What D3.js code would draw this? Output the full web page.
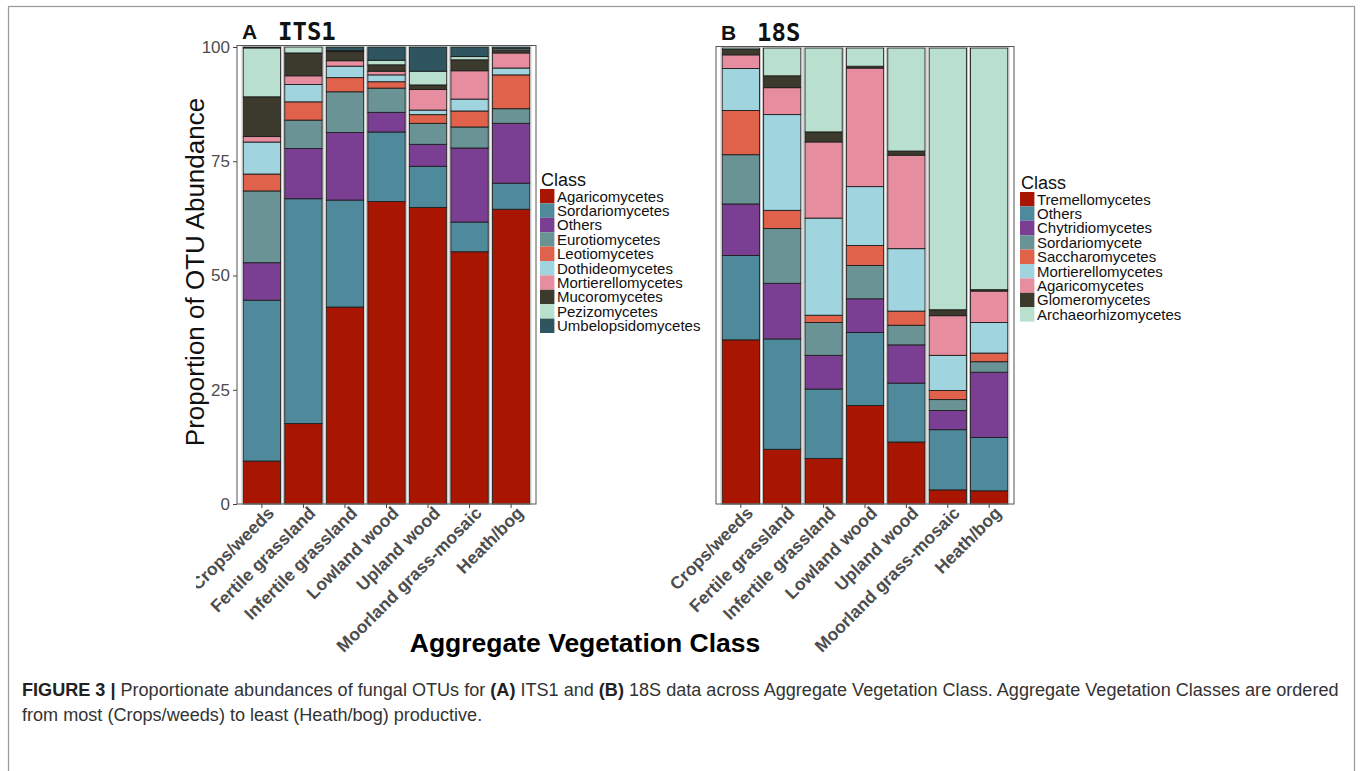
<!DOCTYPE html>
<html>
<head>
<meta charset="utf-8">
<script src="https://cdn.jsdelivr.net/npm/d3@7"></script>
<style>
  body { margin: 0; background: #fff; }
  svg { display: block; font-family: Arial, "Liberation Sans", sans-serif; }
</style>
</head>
<body>
<svg id="fig" width="1363" height="771"></svg>
<script>
//! DATA
const vegClasses = ['Crops/weeds', 'Fertile grassland', 'Infertile grassland', 'Lowland wood',
  'Upland wood', 'Moorland grass-mosaic', 'Heath/bog'];
const yTicks = [0, 25, 50, 75, 100];

const its1Classes = ['Agaricomycetes', 'Sordariomycetes', 'Others', 'Eurotiomycetes', 'Leotiomycetes',
  'Dothideomycetes', 'Mortierellomycetes', 'Mucoromycetes', 'Pezizomycetes', 'Umbelopsidomycetes'];
// one row per class, one value per vegetation class (percent of OTU abundance)
const its1Values = [
  [9.4, 17.6, 43.1, 66.2, 64.9, 55.2, 64.5],
  [35.2, 49.2, 23.4, 15.2, 9.0, 6.5, 5.7],
  [8.2, 11.0, 14.8, 4.3, 4.8, 16.2, 13.1],
  [15.7, 6.2, 8.9, 5.3, 4.6, 4.6, 3.2],
  [3.7, 4.0, 3.1, 1.4, 1.9, 3.5, 7.4],
  [7.0, 3.8, 2.5, 1.5, 1.0, 2.6, 1.5],
  [1.2, 1.9, 1.2, 0.8, 4.5, 6.2, 3.3],
  [8.7, 5.0, 2.0, 1.4, 1.0, 2.4, 0.6],
  [10.7, 1.3, 0.2, 1.0, 3.0, 0.7, 0.3],
  [0.2, 0.0, 0.8, 2.9, 5.3, 2.1, 0.4]
];

const s18Classes = ['Tremellomycetes', 'Others', 'Chytridiomycetes', 'Sordariomycete', 'Saccharomycetes',
  'Mortierellomycetes', 'Agaricomycetes', 'Glomeromycetes', 'Archaeorhizomycetes'];
const s18Values = [
  [36.0, 12.0, 10.0, 21.6, 13.6, 3.1, 2.9],
  [18.5, 24.2, 15.2, 16.0, 12.9, 13.2, 11.7],
  [11.3, 12.2, 7.4, 7.4, 8.4, 4.2, 14.3],
  [10.8, 12.0, 7.2, 7.3, 4.3, 2.4, 2.3],
  [9.7, 4.0, 1.6, 4.4, 3.1, 2.0, 1.9],
  [9.2, 21.0, 21.3, 12.9, 13.7, 7.7, 6.7],
  [3.0, 5.9, 16.7, 26.0, 20.5, 8.7, 6.9],
  [1.2, 2.6, 2.2, 0.4, 0.9, 1.3, 0.3],
  [0.3, 6.1, 18.4, 4.0, 22.6, 57.4, 53.0]
];

const captionLine1 = [
  ['FIGURE 3 | ', true],
  ['Proportionate abundances of fungal OTUs for ', false],
  ['(A)', true],
  [' ITS1 and ', false],
  ['(B)', true],
  [' 18S data across Aggregate Vegetation Class. Aggregate Vegetation Classes are ordered', false]
];
const captionLine2 = [['from most (Crops/weeds) to least (Heath/bog) productive.', false]];

//! COLOURS
const its1Colors = ['#a81500', '#4f8a9c', '#7a3f93', '#6a9396', '#e0624b',
  '#a0d4df', '#e68e9f', '#3b3a2d', '#b9dfcf', '#2f5660'];
const s18Colors = ['#a81500', '#4f8a9c', '#7a3f93', '#6a9396', '#e0624b',
  '#a0d4df', '#e68e9f', '#3b3a2d', '#b9dfcf'];

const svg = d3.select('#fig');

// outer figure frame
svg.append('rect')
  .attr('x', 8.5).attr('y', 6.5)
  .attr('width', 1346).attr('height', 780)
  .attr('fill', 'none').attr('stroke', '#9a9a9a').attr('stroke-width', 1.2);

// panel A's labels are cut at the left edge of its plot area
svg.append('defs').append('clipPath').attr('id', 'clipA')
  .append('rect').attr('x', 196).attr('y', 0).attr('width', 500).attr('height', 771);

const drawPanel = (cfg) => {
  const { left, right, top, bottom, classes, values, colors } = cfg;

  const table = vegClasses.map((v, i) => {
    const row = { veg: v };
    classes.forEach((c, k) => { row[c] = values[k][i]; });
    return row;
  });
  const series = d3.stack().keys(classes)(table);

  const x = d3.scaleBand().domain(vegClasses).range([left, right])
    .paddingInner(0.1).paddingOuter(0.15);
  const y = d3.scaleLinear().domain([0, 100]).range([bottom, top]);

  const g = svg.append('g');

  // bars
  g.selectAll('g.layer')
    .data(series)
    .join('g')
    .attr('class', 'layer')
    .attr('fill', (d, k) => colors[k])
    .selectAll('rect')
    .data(d => d.filter(p => p[1] - p[0] > 0))
    .join('rect')
    .attr('x', d => x(d.data.veg))
    .attr('width', x.bandwidth())
    .attr('y', d => y(d[1]))
    .attr('height', d => y(d[0]) - y(d[1]))
    .attr('stroke', '#1e1e1e')
    .attr('stroke-width', 0.9);

  // light outline around each column
  g.selectAll('rect.col')
    .data(vegClasses)
    .join('rect')
    .attr('class', 'col')
    .attr('x', d => x(d) - 1.2)
    .attr('width', x.bandwidth() + 2.4)
    .attr('y', y(100) - 1)
    .attr('height', y(0) - y(100) + 1)
    .attr('fill', 'none')
    .attr('stroke', '#b5b5b5')
    .attr('stroke-width', 0.8);

  // panel border
  g.append('rect')
    .attr('x', left).attr('y', top - 1.5)
    .attr('width', right - left).attr('height', bottom - top + 1.5)
    .attr('fill', 'none').attr('stroke', '#555').attr('stroke-width', 1);

  // x axis
  const xAxis = g.append('g')
    .attr('transform', `translate(0,${bottom})`)
    .attr('clip-path', cfg.clip ? `url(#${cfg.clip})` : null)
    .call(d3.axisBottom(x).tickSize(4).tickPadding(3));
  xAxis.select('.domain').remove();
  xAxis.selectAll('.tick line').attr('stroke', '#444');
  xAxis.selectAll('.tick text')
    .attr('font-size', 17.5)
    .attr('font-weight', 'bold')
    .attr('fill', '#4d4d4d')
    .attr('text-anchor', 'end')
    .attr('dy', '0.75em')
    .attr('transform', 'translate(-1,-4) rotate(-45)');

  // y axis only on panel A
  if (cfg.yAxis) {
    const yAxis = g.append('g')
      .attr('transform', `translate(${left},0)`)
      .call(d3.axisLeft(y).tickValues(yTicks).tickSize(4).tickPadding(3));
    yAxis.select('.domain').remove();
    yAxis.selectAll('.tick line').attr('stroke', '#444');
    yAxis.selectAll('.tick text')
      .attr('font-size', 17)
      .attr('fill', '#4d4d4d');
  }

  // panel titles
  g.append('text')
    .attr('x', left + 5).attr('y', top - 8)
    .attr('font-size', 21).attr('font-weight', 'bold').attr('fill', '#111')
    .text(cfg.letter);
  g.append('text')
    .attr('x', left + 41).attr('y', top - 7)
    .attr('font-family', '"DejaVu Sans Mono", monospace')
    .attr('font-size', 24).attr('font-weight', 'bold').attr('fill', '#111')
    .text(cfg.title);

  // legend
  const lg = g.append('g').attr('transform', `translate(${cfg.legendX},${cfg.legendY})`);
  lg.append('text')
    .attr('x', 1).attr('y', -3)
    .attr('font-size', 18).attr('fill', '#111')
    .text('Class');
  const item = lg.selectAll('g.item')
    .data(classes)
    .join('g')
    .attr('class', 'item')
    .attr('transform', (d, k) => `translate(0,${k * 14.4})`);
  item.append('rect')
    .attr('width', 14.4).attr('height', 14.4)
    .attr('fill', (d, k) => colors[k]);
  item.append('text')
    .attr('x', 17).attr('y', 12.5)
    .attr('font-size', 15).attr('fill', '#111')
    .text(d => d);
};

drawPanel({
  left: 237, right: 536, top: 47, bottom: 504,
  classes: its1Classes, values: its1Values, colors: its1Colors,
  yAxis: true, letter: 'A', title: 'ITS1', clip: 'clipA',
  legendX: 540, legendY: 189
});

drawPanel({
  left: 716, right: 1014, top: 48, bottom: 504,
  classes: s18Classes, values: s18Values, colors: s18Colors,
  yAxis: false, letter: 'B', title: '18S',
  legendX: 1020, legendY: 192
});

//! AXIS TITLES
svg.append('text')
  .attr('transform', 'translate(204,272) rotate(-90)')
  .attr('text-anchor', 'middle')
  .attr('font-size', 26).attr('fill', '#111')
  .text('Proportion of OTU Abundance');

svg.append('text')
  .attr('x', 585).attr('y', 652)
  .attr('text-anchor', 'middle')
  .attr('font-size', 26.5).attr('font-weight', 'bold').attr('fill', '#000')
  .text('Aggregate Vegetation Class');

//! CAPTION  (segments laid out one after another, size fitted to the line width)
const capFont = '"Liberation Sans Narrow", "Arial Narrow", Arial, sans-serif';
const layLine = (parts, y, size) => {
  const grp = svg.append('g');
  let cx = 22;
  parts.forEach(([t, bold]) => {
    const el = grp.append('text')
      .attr('x', cx).attr('y', y)
      .attr('font-family', capFont)
      .attr('font-size', size)
      .attr('font-weight', bold ? 'bold' : 'normal')
      .attr('fill', bold ? '#222' : '#333')
      .style('white-space', 'pre')
      .text(t);
    cx += el.node().getComputedTextLength();
  });
  return { grp, width: cx - 22 };
};
const probe = layLine(captionLine1, 696, 19);
const capSize = 19 * 1318 / probe.width;
probe.grp.remove();
layLine(captionLine1, 696, capSize);
layLine(captionLine2, 721, capSize);
</script>
</body>
</html>
